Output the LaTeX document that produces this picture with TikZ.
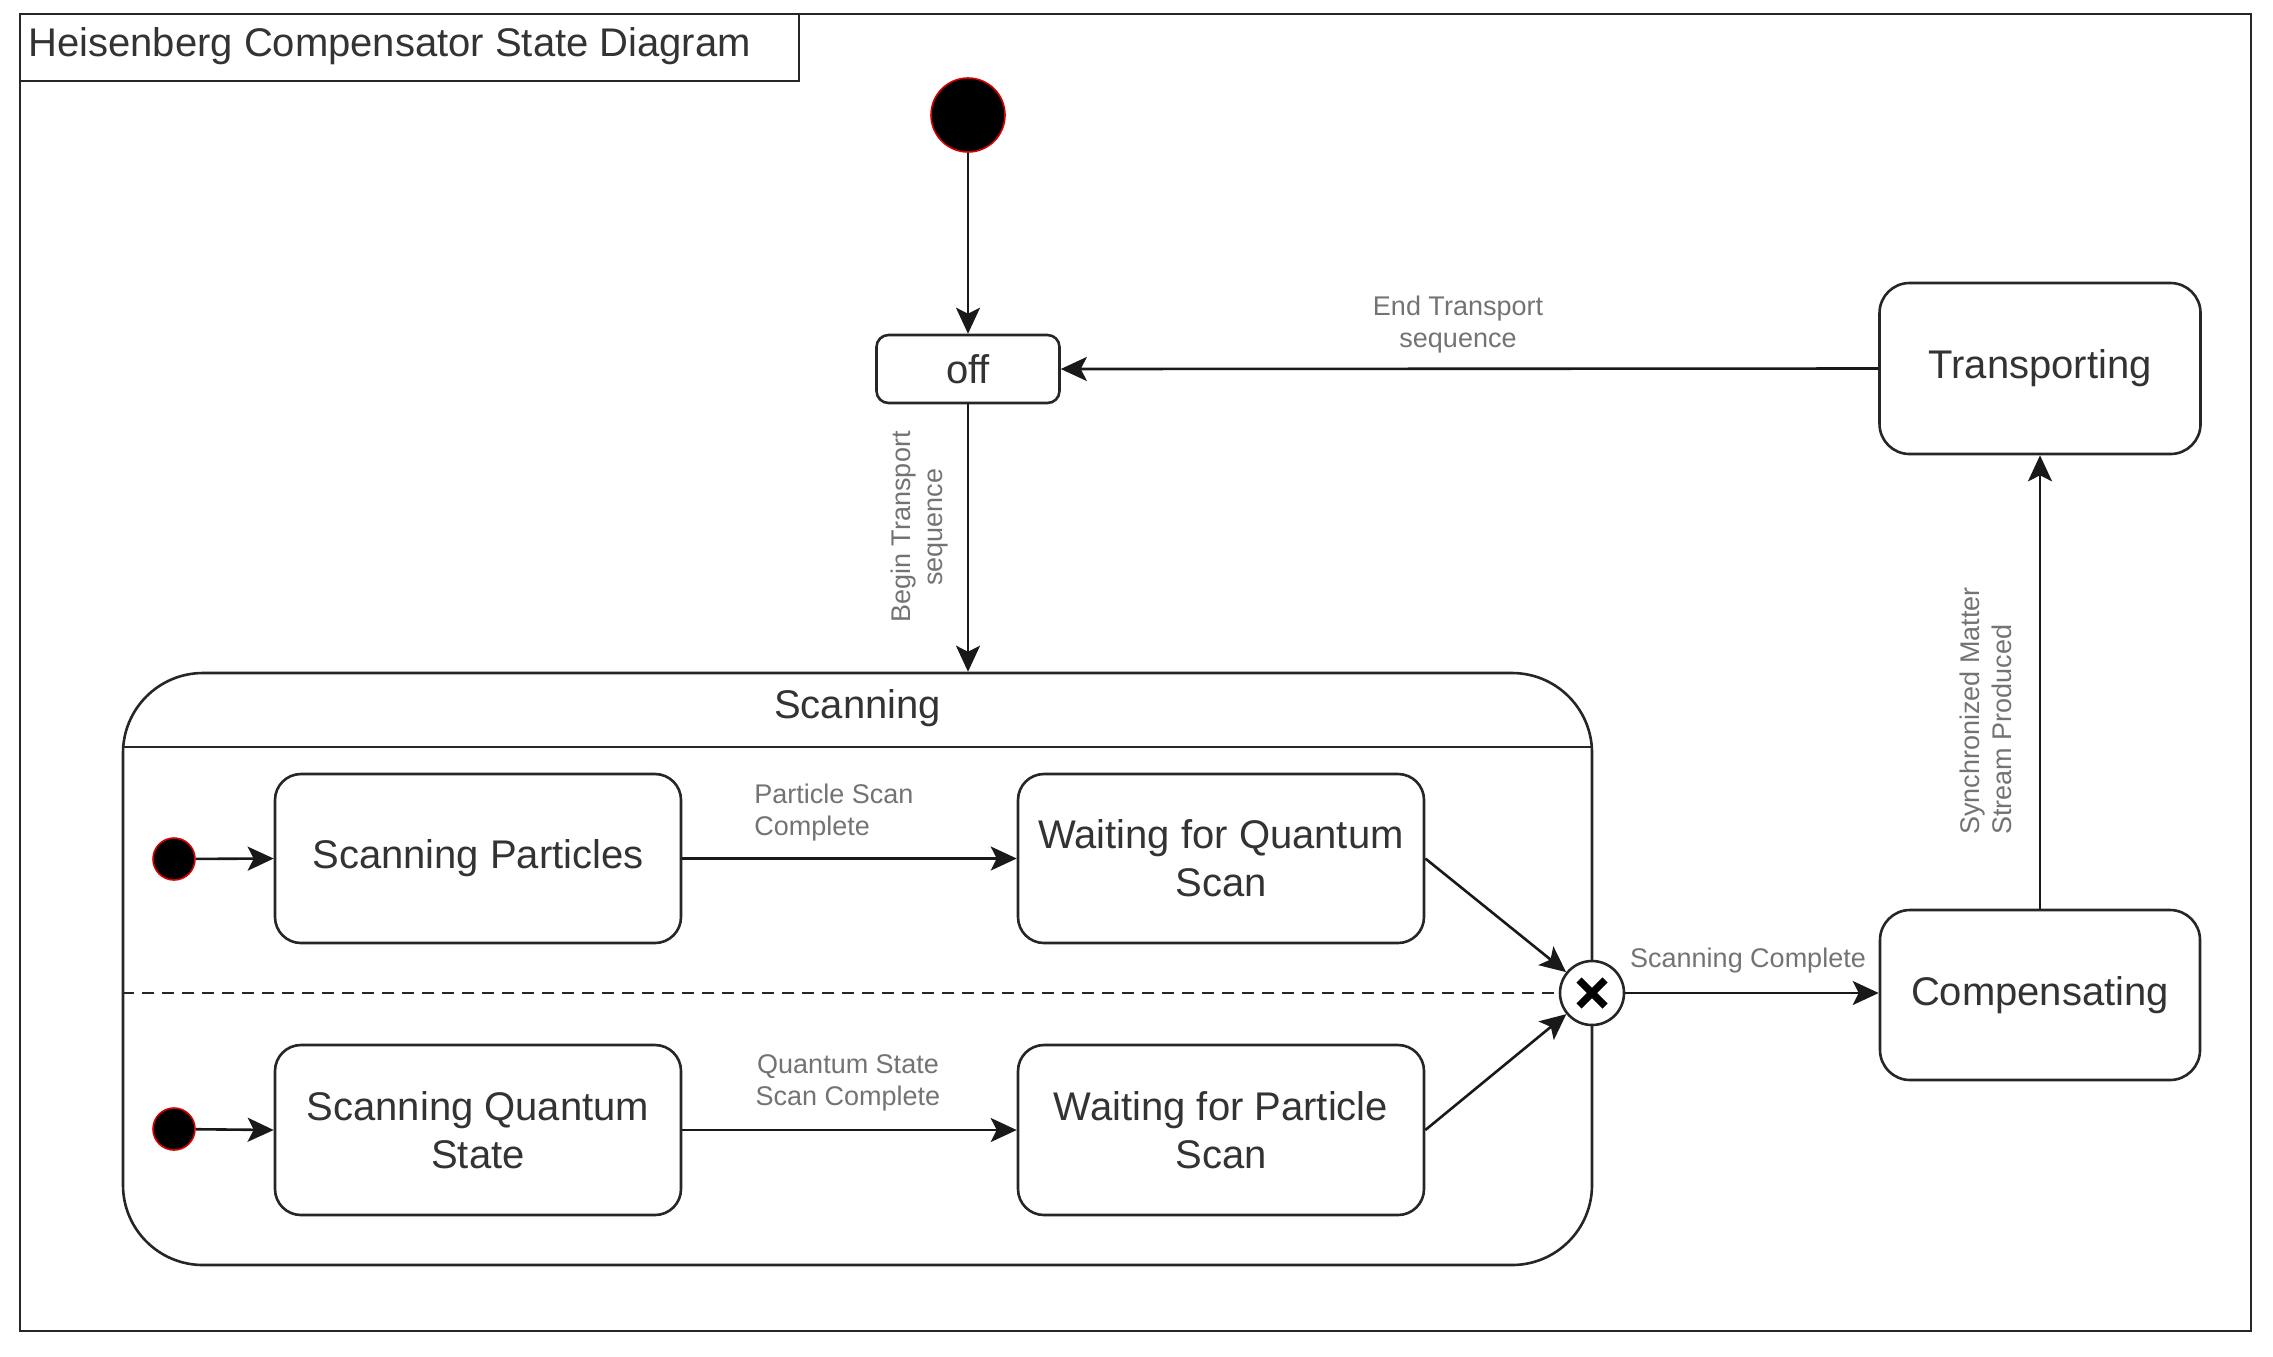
\documentclass[tikz,border=0pt]{standalone}
\usepackage{fontspec}
\setmainfont{Liberation Sans}
\usetikzlibrary{arrows.meta,calc}
\begin{document}
\begin{tikzpicture}[x=0.5pt,y=-0.5pt,
  state/.style={draw=black!85, line width=1.3pt, rounded corners=13pt, fill=white, align=center,
    font=\fontsize{20}{24}\selectfont, text=black!80, inner sep=0pt},
  lbl/.style={font=\fontsize{13.5}{16}\selectfont, text=black!55, inner sep=0pt},
  arr/.style={draw=black!90, line width=1.3pt, -{Stealth[length=13pt,width=12pt,inset=3pt]}},
  initst/.style={circle, fill=black, draw=red!85!black, line width=0.8pt, inner sep=0pt},
  border/.style={draw=black!85, line width=1.3pt},
]
\useasboundingbox (0,0) rectangle (2273,1356);
% frame and title tab
\draw[border] (20,14) rectangle (2251,1331);
\draw[border] (20,14) rectangle (799,81);
\node[anchor=west, inner sep=0pt, font=\fontsize{20}{24}\selectfont, text=black!80] (title) at (28,46) {Heisenberg Compensator State Diagram};

% composite state Scanning
\node[border, rounded corners=40pt, minimum width=734.5pt, minimum height=296pt, inner sep=0pt] (scan) at (857.5,969) {};
\node[inner sep=0pt, font=\fontsize{20}{24}\selectfont, text=black!80] (scantitle) at (857.5,708) {Scanning};
\coordinate (divy) at (0,747);
\draw[border] (scan.west |- divy) -- (scan.east |- divy);

% join
\node[circle, draw=black!85, fill=white, line width=1.3pt, minimum size=32pt, inner sep=0pt] (join) at (1592,993) {};
\draw[line width=3.6pt] ([shift={(-13,-13)}]join.center) -- ([shift={(13,13)}]join.center);
\draw[line width=3.6pt] ([shift={(-13,13)}]join.center) -- ([shift={(13,-13)}]join.center);
\draw[draw=black!85, line width=1.2pt, dash pattern=on 6pt off 4pt] (scan.west |- join) -- (join.west);

% states
\node[initst, minimum size=37pt] (start) at (968,115) {};
\node[state, rounded corners=6pt, minimum width=91.5pt, minimum height=34pt] (off) at (968,369) {off};
\node[state, rounded corners=15pt, minimum width=160.5pt, minimum height=85.5pt] (trans) at (2040,368.5) {Transporting};
\node[state, rounded corners=15pt, minimum width=160pt, minimum height=85pt] (comp) at (2040,995) {Compensating};
\node[state, minimum width=203pt, minimum height=84.5pt] (sp) at (478,858.5) {Scanning Particles};
\node[state, minimum width=203pt, minimum height=85pt] (sqs) at (478,1130) {Scanning Quantum\\State};
\node[state, minimum width=203pt, minimum height=84.5pt] (wqs) at (1221,858.5) {Waiting for Quantum\\Scan};
\node[state, minimum width=203pt, minimum height=85pt] (wps) at (1221,1130) {Waiting for Particle\\Scan};
\node[initst, minimum size=21pt] (i1) at (174,859) {};
\node[initst, minimum size=21pt] (i2) at (174,1129) {};

% connectors
\draw[arr] (start) -- (off);
\draw[arr] (trans.west) -- (off.east);
\draw[arr] (off.south) -- (off.south |- scan.north);
\draw[arr] (i1) -- (sp.west);
\draw[arr] (i2) -- (sqs.west);
\draw[arr] (sp) -- (wqs);
\draw[arr] (sqs) -- (wps);
\draw[arr] (wqs.east) -- (join);
\draw[arr] (wps.east) -- (join);
\draw[arr] (join.east) -- (join.east -| comp.west);
\draw[arr] (comp.north) -- (trans.south);

% labels
\node[lbl, align=center] (lend) at (1458,325) {End Transport\\sequence};
\node[lbl, align=center, rotate=90] (lbegin) at (920,527) {Begin Transport\\sequence};
\node[lbl, align=left, anchor=west] (lpsc) at (754,812) {Particle Scan\\Complete};
\node[lbl, align=center] (lqss) at (848,1083) {Quantum State\\Scan Complete};
\node[lbl] (lsc) at (1748,960) {Scanning Complete};
\node[lbl, align=left, rotate=90] (lsync) at (1986,711) {Synchronized Matter\\Stream Produced};
\end{tikzpicture}
\end{document}
